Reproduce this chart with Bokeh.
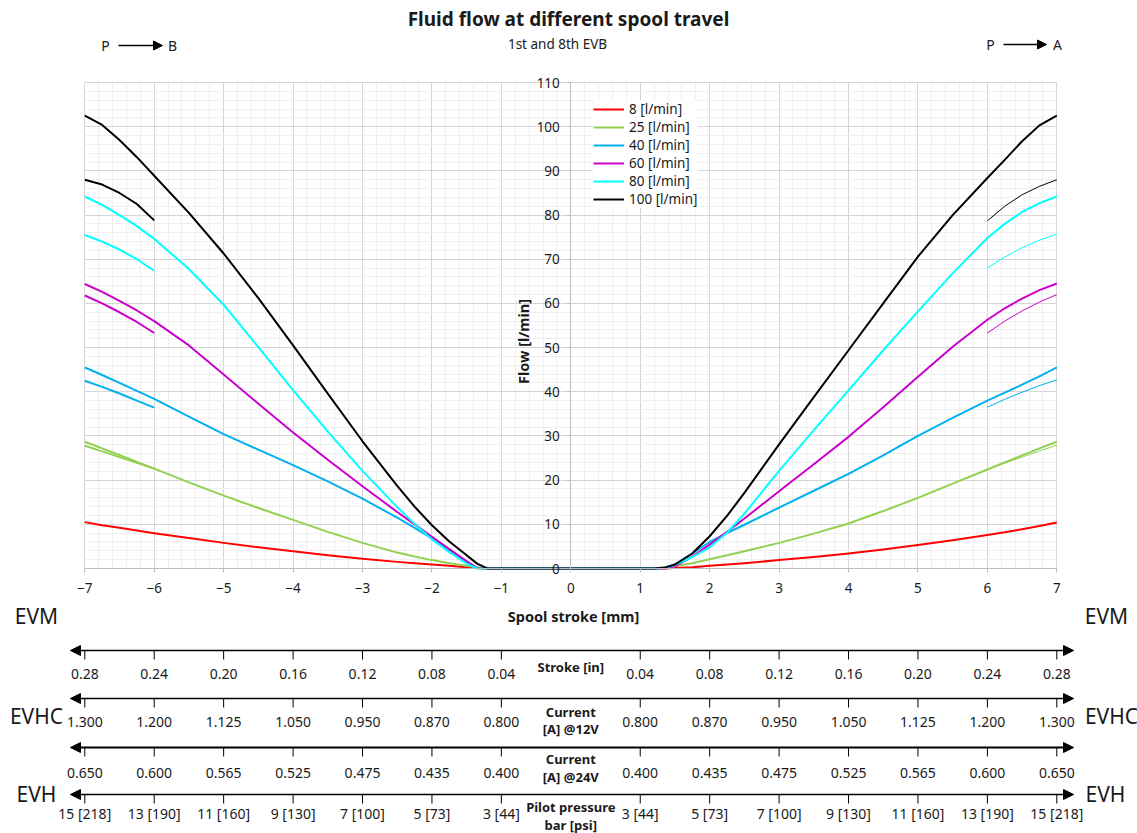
import math
from bokeh.plotting import figure
from bokeh.models import (Range1d, LinearAxis, Grid, SingleIntervalTicker, Arrow,
                          NormalHead, Legend, LegendItem)
from bokeh.core.properties import value
from bokeh.embed import file_html
from bokeh.resources import INLINE

# ---------------- data ----------------
STROKE_MM = [-7, -6.75, -6.5, -6.25, -6, -5.5, -5, -4.5, -4, -3.5, -3, -2.5, -2.25, -2, -1.75,
             -1.5, -1.35, -1.2, 0, 1.2, 1.35, 1.5, 1.75, 2, 2.25, 2.5, 3, 3.5, 4, 4.5, 5, 5.5,
             6, 6.25, 6.5, 6.75, 7]
FLOW_8 = [10.5, 9.8, 9.2, 8.6, 8.0, 6.9, 5.8, 4.8, 3.9, 3.0, 2.2, 1.5, 1.2, 0.9, 0.6,
          0.3, 0.1, 0.0, 0.0, 0.0, 0.0, 0.1, 0.3, 0.6, 0.9, 1.2, 1.9, 2.6, 3.4, 4.3, 5.3, 6.4,
          7.6, 8.2, 8.9, 9.6, 10.4]
FLOW_25 = [28.7, 27.2, 25.7, 24.1, 22.6, 19.5, 16.5, 13.7, 11.0, 8.3, 5.8, 3.6, 2.7, 1.9, 1.2,
           0.6, 0.3, 0.0, 0.0, 0.0, 0.1, 0.5, 1.2, 2.1, 3.0, 3.9, 5.8, 7.9, 10.2, 13.0, 16.0, 19.2,
           22.4, 24.0, 25.6, 27.2, 28.7]
FLOW_40 = [45.5, 43.8, 42.0, 40.2, 38.4, 34.4, 30.4, 26.9, 23.4, 19.7, 15.8, 11.5, 9.2, 6.8, 4.2,
           1.6, 0.1, 0.0, 0.0, 0.0, 0.1, 0.9, 3.4, 6.0, 8.0, 9.9, 13.8, 17.6, 21.4, 25.6, 30.0, 34.1,
           38.0, 39.8, 41.6, 43.5, 45.5]
FLOW_60 = [64.4, 62.6, 60.6, 58.4, 56.0, 50.5, 43.9, 37.3, 30.8, 24.6, 18.6, 12.8, 10.0, 7.2, 4.4,
           1.6, 0.1, 0.0, 0.0, 0.0, 0.0, 0.5, 2.7, 5.4, 8.3, 11.3, 17.5, 23.6, 29.8, 36.5, 43.4, 50.2,
           56.3, 58.9, 61.1, 63.0, 64.5]
FLOW_80 = [84.2, 82.3, 80.0, 77.5, 74.6, 67.8, 59.7, 50.1, 40.4, 31.0, 22.1, 13.9, 10.1, 6.6, 3.7,
           1.1, 0.0, 0.0, 0.0, 0.0, 0.1, 0.8, 2.6, 4.8, 8.1, 12.4, 22.1, 31.3, 40.3, 49.4, 58.2, 66.8,
           74.8, 78.0, 80.7, 82.7, 84.2]
FLOW_100 = [102.5, 100.4, 97.0, 93.1, 88.9, 80.5, 71.3, 61.2, 50.5, 39.6, 28.8, 18.7, 14.0, 9.8, 6.1,
            3.0, 1.1, 0.0, 0.0, 0.0, 0.2, 0.9, 3.4, 7.3, 11.9, 17.1, 28.1, 38.8, 49.4, 60.0, 70.6, 80.0,
            88.4, 92.5, 96.7, 100.3, 102.5]

# short second curves at the stroke ends
SEC_X_LEFT = [-7, -6.75, -6.5, -6.25, -6]
SEC_X_RIGHT = [6, 6.25, 6.5, 6.75, 7]
SEC_25_L, SEC_25_R = [27.8, 26.5, 25.2, 23.9, 22.6], [22.5, 23.9, 25.2, 26.6, 27.9]
SEC_40_L, SEC_40_R = [42.5, 41.1, 39.6, 38.0, 36.4], [36.5, 38.3, 39.9, 41.4, 42.7]
SEC_60_L, SEC_60_R = [61.8, 60.0, 58.0, 55.8, 53.3], [53.3, 56.0, 58.3, 60.3, 62.0]
SEC_80_L, SEC_80_R = [75.5, 74.0, 72.2, 70.0, 67.4], [68.0, 70.5, 72.6, 74.3, 75.7]
SEC_100_L, SEC_100_R = [88.0, 86.9, 85.0, 82.5, 78.8], [78.7, 82.0, 84.6, 86.5, 88.0]

SERIES_NAMES = ["8 [l/min]", "25 [l/min]", "40 [l/min]", "60 [l/min]", "80 [l/min]", "100 [l/min]"]

SCALE_TICKS = [-7, -6, -5, -4, -3, -2, -1, 1, 2, 3, 4, 5, 6, 7]
STROKE_IN_LABELS = ["0.28", "0.24", "0.20", "0.16", "0.12", "0.08", "0.04",
                    "0.04", "0.08", "0.12", "0.16", "0.20", "0.24", "0.28"]
CURRENT_12V_LABELS = ["1.300", "1.200", "1.125", "1.050", "0.950", "0.870", "0.800",
                      "0.800", "0.870", "0.950", "1.050", "1.125", "1.200", "1.300"]
CURRENT_24V_LABELS = ["0.650", "0.600", "0.565", "0.525", "0.475", "0.435", "0.400",
                      "0.400", "0.435", "0.475", "0.525", "0.565", "0.600", "0.650"]
PILOT_LABELS = ["15 [218]", "13 [190]", "11 [160]", "9 [130]", "7 [100]", "5 [73]", "3 [44]",
                "3 [44]", "5 [73]", "7 [100]", "9 [130]", "11 [160]", "13 [190]", "15 [218]"]
SCALE_TITLES = [["Stroke [in]"], ["Current", "[A] @12V"], ["Current", "[A] @24V"],
                ["Pilot pressure", "bar [psi]"]]

# ---------------- layout ----------------
W, H = 1137, 833
X0PX, XS = 570.3, 69.43     # pixel of x=0, pixels per mm
Y0PX, YS = 568.0, 4.418     # pixel of y=0, pixels per l/min


def dx(px):
    return (px - X0PX) / XS


def dy(py):
    return (Y0PX - py) / YS


FONT = value("Noto Sans")
TXT = "#1a1a1a"
COLORS = ["#ff0000", "#92d050", "#00b0f0", "#cc00cc", "#00ffff", "#000000"]

p = figure(width=W, height=H, x_range=Range1d(dx(0), dx(W)), y_range=Range1d(dy(H), dy(0)),
           x_axis_type=None, y_axis_type=None, toolbar_location=None,
           output_backend="svg", min_border=0, title_location=None)
p.outline_line_color = None
p.background_fill_color = "white"
p.border_fill_color = "white"

# grids
xgrid = Grid(dimension=0, ticker=SingleIntervalTicker(interval=1, num_minor_ticks=5),
             bounds=(-7, 7), cross_bounds=(0, 110),
             grid_line_color="#d6d6d6", minor_grid_line_color="#efefef")
ygrid = Grid(dimension=1, ticker=SingleIntervalTicker(interval=10, num_minor_ticks=5),
             bounds=(0, 110), cross_bounds=(-7, 7),
             grid_line_color="#d6d6d6", minor_grid_line_color="#efefef")
p.add_layout(xgrid, "center")
p.add_layout(ygrid, "center")

AX = "#bdbdbd"
xaxis = LinearAxis(ticker=SingleIntervalTicker(interval=1), fixed_location=0, bounds=(-7, 7),
                   axis_line_color=AX, major_tick_line_color=AX, major_tick_out=4, major_tick_in=0,
                   minor_tick_line_color=None, major_label_standoff=10,
                   major_label_text_font="Noto Sans", major_label_text_font_size="13.5px",
                   major_label_text_color=TXT)
p.add_layout(xaxis, "below")
yaxis = LinearAxis(ticker=SingleIntervalTicker(interval=10), fixed_location=0, bounds=(0, 110),
                   axis_line_color=AX, major_tick_line_color=AX, major_tick_out=4, major_tick_in=0,
                   minor_tick_line_color=None, major_label_standoff=7,
                   major_label_text_font="Noto Sans", major_label_text_font_size="13.5px",
                   major_label_text_color=TXT)
p.add_layout(yaxis, "left")

# curves
mains = [FLOW_8, FLOW_25, FLOW_40, FLOW_60, FLOW_80, FLOW_100]
sec_left = [None, SEC_25_L, SEC_40_L, SEC_60_L, SEC_80_L, SEC_100_L]
sec_right = [None, SEC_25_R, SEC_40_R, SEC_60_R, SEC_80_R, SEC_100_R]
items = []
for name, col, ys, sl, sr in zip(SERIES_NAMES, COLORS, mains, sec_left, sec_right):
    r = p.line(STROKE_MM, ys, line_color=col, line_width=2, line_join="round")
    items.append(LegendItem(label=name, renderers=[r]))
    if sl is not None:
        p.line(SEC_X_LEFT, sl, line_color=col, line_width=2, line_join="round")
    if sr is not None:
        p.line(SEC_X_RIGHT, sr, line_color=col, line_width=1, line_join="round")

LEG_ROW, LEG_PAD = 18, 4
leg_h = LEG_ROW * len(items) + 2 * LEG_PAD
legend = Legend(items=items, location=(593, H - 92 - leg_h), padding=LEG_PAD, margin=0,
                spacing=0, glyph_width=31, glyph_height=LEG_ROW, label_height=LEG_ROW,
                label_standoff=5, border_line_color=None, background_fill_color="white",
                background_fill_alpha=1.0, label_text_font="Noto Sans",
                label_text_font_size="13.5px", label_text_color=TXT)
p.add_layout(legend, "center")


def txt(xs, ys, texts, size, bold=False, angle=0.0, align="center"):
    p.text(x=xs, y=ys, text=texts, text_font=FONT, text_font_size=value(size),
           text_font_style=value("bold" if bold else "normal"), text_color=TXT,
           text_align=value(align), text_baseline=value("middle"), angle=angle)


# titles and axis titles
txt([dx(568)], [dy(18)], ["Fluid flow at different spool travel"], "19px", bold=True)
txt([dx(557)], [dy(43)], ["1st and 8th EVB"], "13.5px")
txt([dx(573)], [dy(615)], ["Spool stroke [mm]"], "14.5px", bold=True)
txt([dx(522)], [dy(341)], ["Flow [l/min]"], "14.5px", bold=True, angle=math.pi / 2)

# flow direction markers
txt([dx(105), dx(172), dx(990), dx(1057)], [dy(45), dy(45), dy(44), dy(44)],
    ["P", "B", "P", "A"], "14px")
for x0, x1, yy in [(118, 162, 45), (1003, 1046, 44)]:
    p.add_layout(Arrow(end=NormalHead(size=9, line_color="black", fill_color="black"),
                       x_start=dx(x0), y_start=dy(yy), x_end=dx(x1), y_end=dy(yy),
                       line_color="black", line_width=1.3))

# valve type labels
txt([dx(36), dx(1106), dx(36), dx(1111), dx(36), dx(1105)],
    [dy(615), dy(615), dy(715), dy(715), dy(793), dy(793)],
    ["EVM", "EVM", "EVHC", "EVHC", "EVH", "EVH"], "21px")

# secondary scales under the chart
ROW_LINE_PX = [650, 698, 747, 794]
ROW_LABEL_PX = [673, 721, 772, 813]
ROW_TITLE_PX = [[666], [711, 728], [758, 776], [806, 824]]
ROW_WIDTH = [1.3, 1.6, 2.0, 1.3]
row_labels = [STROKE_IN_LABELS, CURRENT_12V_LABELS, CURRENT_24V_LABELS, PILOT_LABELS]
n = len(SCALE_TICKS)
for ly, lab_y, title_ys, titles, labels, lw in zip(ROW_LINE_PX, ROW_LABEL_PX, ROW_TITLE_PX,
                                                   SCALE_TITLES, row_labels, ROW_WIDTH):
    p.add_layout(Arrow(start=NormalHead(size=10, line_color="black", fill_color="black"),
                       end=NormalHead(size=10, line_color="black", fill_color="black"),
                       x_start=dx(70), y_start=dy(ly), x_end=dx(1073), y_end=dy(ly),
                       line_color="black", line_width=lw))
    p.segment(x0=SCALE_TICKS, y0=[dy(ly)] * n, x1=SCALE_TICKS, y1=[dy(ly + 9)] * n,
              line_color="black", line_width=1)
    txt(SCALE_TICKS, [dy(lab_y)] * n, labels, "14px")
    txt([0] * len(titles), [dy(t) for t in title_ys], titles, "13px", bold=True)

open("out.html", "w").write(file_html(p, INLINE))
